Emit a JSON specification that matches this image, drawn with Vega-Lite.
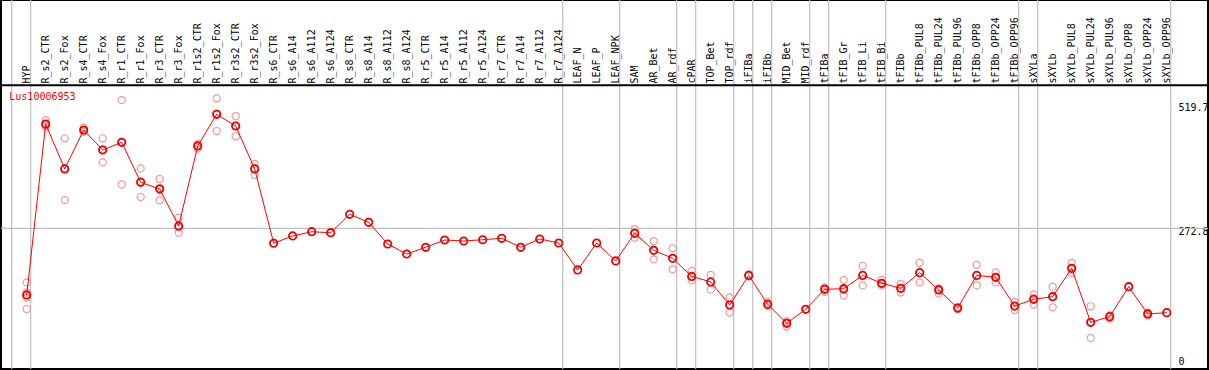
{
  "$schema": "https://vega.github.io/schema/vega-lite/v6.json",
  "width": 1207,
  "height": 369,
  "autosize": "none",
  "padding": {"left": 1, "top": 0, "right": 1, "bottom": 1},
  "background": "white",
  "config": {
    "view": {"stroke": "black", "strokeWidth": 2},
    "axis": {"domain": false, "ticks": false, "grid": false, "labelFont": "DejaVu Sans Mono", "labelFontSize": 10, "labelColor": "black"}
  },
  "datasets": {
    "means": [
      {"c": "HYP", "v": 140}, {"c": "R_s2_CTR", "v": 480.5}, {"c": "R_s2_Fox", "v": 391}, {"c": "R_s4_CTR", "v": 468.5},
      {"c": "R_s4_Fox", "v": 428.7}, {"c": "R_r1_CTR", "v": 444}, {"c": "R_r1_Fox", "v": 364.4}, {"c": "R_r3_CTR", "v": 351},
      {"c": "R_r3_Fox", "v": 277.4}, {"c": "R_r1s2_CTR", "v": 436.7}, {"c": "R_r1s2_Fox", "v": 499.8}, {"c": "R_r3s2_CTR", "v": 476.5},
      {"c": "R_r3s2_Fox", "v": 391}, {"c": "R_s6_CTR", "v": 243}, {"c": "R_s6_A14", "v": 257.5}, {"c": "R_s6_A112", "v": 266},
      {"c": "R_s6_A124", "v": 264}, {"c": "R_s8_CTR", "v": 300.7}, {"c": "R_s8_A14", "v": 284.7}, {"c": "R_s8_A112", "v": 241.5},
      {"c": "R_s8_A124", "v": 221.6}, {"c": "R_r5_CTR", "v": 235}, {"c": "R_r5_A14", "v": 249.5}, {"c": "R_r5_A112", "v": 247.5},
      {"c": "R_r5_A124", "v": 250}, {"c": "R_r7_CTR", "v": 252.9}, {"c": "R_r7_A14", "v": 235}, {"c": "R_r7_A112", "v": 251.5},
      {"c": "R_r7_A124", "v": 243.5}, {"c": "LEAF_N", "v": 189.8}, {"c": "LEAF_P", "v": 243.5}, {"c": "LEAF_NPK", "v": 207.7},
      {"c": "SAM", "v": 262.8}, {"c": "AR_Bet", "v": 229}, {"c": "AR_rdf", "v": 213}, {"c": "cPAR", "v": 177},
      {"c": "TOP_Bet", "v": 166}, {"c": "TOP_rdf", "v": 120}, {"c": "iFIBa", "v": 179}, {"c": "iFIBb", "v": 121.5},
      {"c": "MID_Bet", "v": 83.6}, {"c": "MID_rdf", "v": 111.5}, {"c": "tFIBa", "v": 151.3}, {"c": "tFIB_Gr", "v": 152.5},
      {"c": "tFIB_Li", "v": 179}, {"c": "tFIB_Bi", "v": 163.3}, {"c": "tFIBb", "v": 153.3}, {"c": "tFIBb_PUL8", "v": 184.4},
      {"c": "tFIBb_PUL24", "v": 150}, {"c": "tFIBb_PUL96", "v": 114}, {"c": "tFIBb_OPP8", "v": 179}, {"c": "tFIBb_OPP24", "v": 175.2},
      {"c": "tFIBb_OPP96", "v": 118}, {"c": "sXYLa", "v": 131.4}, {"c": "sXYLb", "v": 136.6}, {"c": "sXYLb_PUL8", "v": 193},
      {"c": "sXYLb_PUL24", "v": 85.6}, {"c": "sXYLb_PUL96", "v": 96.8}, {"c": "sXYLb_OPP8", "v": 156.5}, {"c": "sXYLb_OPP24", "v": 102.2},
      {"c": "sXYLb_OPP96", "v": 104.8}
    ],
    "reps": [
      {"c": "HYP", "v": 165}, {"c": "HYP", "v": 145}, {"c": "HYP", "v": 135}, {"c": "HYP", "v": 112},
      {"c": "R_s2_CTR", "v": 488}, {"c": "R_s2_CTR", "v": 475}, {"c": "R_s2_CTR", "v": 478},
      {"c": "R_s2_Fox", "v": 452}, {"c": "R_s2_Fox", "v": 392}, {"c": "R_s2_Fox", "v": 329},
      {"c": "R_s4_CTR", "v": 473}, {"c": "R_s4_CTR", "v": 465}, {"c": "R_s4_CTR", "v": 468},
      {"c": "R_s4_Fox", "v": 452}, {"c": "R_s4_Fox", "v": 404}, {"c": "R_s4_Fox", "v": 430},
      {"c": "R_r1_CTR", "v": 528}, {"c": "R_r1_CTR", "v": 360}, {"c": "R_r1_CTR", "v": 444},
      {"c": "R_r1_Fox", "v": 392}, {"c": "R_r1_Fox", "v": 335}, {"c": "R_r1_Fox", "v": 366},
      {"c": "R_r3_CTR", "v": 371}, {"c": "R_r3_CTR", "v": 328.5}, {"c": "R_r3_CTR", "v": 353},
      {"c": "R_r3_Fox", "v": 294}, {"c": "R_r3_Fox", "v": 274}, {"c": "R_r3_Fox", "v": 264},
      {"c": "R_r1s2_CTR", "v": 441}, {"c": "R_r1s2_CTR", "v": 432}, {"c": "R_r1s2_CTR", "v": 437},
      {"c": "R_r1s2_Fox", "v": 531.6}, {"c": "R_r1s2_Fox", "v": 466.5}, {"c": "R_r1s2_Fox", "v": 501},
      {"c": "R_r3s2_CTR", "v": 496}, {"c": "R_r3s2_CTR", "v": 456}, {"c": "R_r3s2_CTR", "v": 477},
      {"c": "R_r3s2_Fox", "v": 401}, {"c": "R_r3s2_Fox", "v": 379}, {"c": "R_r3s2_Fox", "v": 392},
      {"c": "SAM", "v": 271}, {"c": "SAM", "v": 254}, {"c": "SAM", "v": 263},
      {"c": "AR_Bet", "v": 247}, {"c": "AR_Bet", "v": 211}, {"c": "AR_Bet", "v": 229},
      {"c": "AR_rdf", "v": 233}, {"c": "AR_rdf", "v": 191}, {"c": "AR_rdf", "v": 213},
      {"c": "cPAR", "v": 188}, {"c": "cPAR", "v": 169}, {"c": "cPAR", "v": 177},
      {"c": "TOP_Bet", "v": 180}, {"c": "TOP_Bet", "v": 151}, {"c": "TOP_Bet", "v": 166},
      {"c": "TOP_rdf", "v": 135}, {"c": "TOP_rdf", "v": 105}, {"c": "TOP_rdf", "v": 120},
      {"c": "iFIBa", "v": 181}, {"c": "iFIBa", "v": 177},
      {"c": "iFIBb", "v": 126}, {"c": "iFIBb", "v": 118},
      {"c": "MID_Bet", "v": 88}, {"c": "MID_Bet", "v": 77}, {"c": "MID_Bet", "v": 85},
      {"c": "tFIBa", "v": 155}, {"c": "tFIBa", "v": 146}, {"c": "tFIBa", "v": 152},
      {"c": "tFIB_Gr", "v": 170}, {"c": "tFIB_Gr", "v": 139}, {"c": "tFIB_Gr", "v": 150},
      {"c": "tFIB_Li", "v": 198}, {"c": "tFIB_Li", "v": 159}, {"c": "tFIB_Li", "v": 180},
      {"c": "tFIB_Bi", "v": 170}, {"c": "tFIB_Bi", "v": 159}, {"c": "tFIB_Bi", "v": 162},
      {"c": "tFIBb", "v": 162}, {"c": "tFIBb", "v": 145}, {"c": "tFIBb", "v": 153},
      {"c": "tFIBb_PUL8", "v": 204}, {"c": "tFIBb_PUL8", "v": 165}, {"c": "tFIBb_PUL8", "v": 184},
      {"c": "tFIBb_PUL24", "v": 153}, {"c": "tFIBb_PUL24", "v": 143}, {"c": "tFIBb_PUL24", "v": 152},
      {"c": "tFIBb_PUL96", "v": 112}, {"c": "tFIBb_PUL96", "v": 116},
      {"c": "tFIBb_OPP8", "v": 200}, {"c": "tFIBb_OPP8", "v": 159}, {"c": "tFIBb_OPP8", "v": 179},
      {"c": "tFIBb_OPP24", "v": 185}, {"c": "tFIBb_OPP24", "v": 165}, {"c": "tFIBb_OPP24", "v": 175},
      {"c": "tFIBb_OPP96", "v": 126}, {"c": "tFIBb_OPP96", "v": 110}, {"c": "tFIBb_OPP96", "v": 118},
      {"c": "sXYLa", "v": 141}, {"c": "sXYLa", "v": 121}, {"c": "sXYLa", "v": 133},
      {"c": "sXYLb", "v": 156.5}, {"c": "sXYLb", "v": 115.5}, {"c": "sXYLb", "v": 137},
      {"c": "sXYLb_PUL8", "v": 204}, {"c": "sXYLb_PUL8", "v": 184}, {"c": "sXYLb_PUL8", "v": 192},
      {"c": "sXYLb_PUL24", "v": 117.5}, {"c": "sXYLb_PUL24", "v": 54.4}, {"c": "sXYLb_PUL24", "v": 85},
      {"c": "sXYLb_PUL96", "v": 93}, {"c": "sXYLb_PUL96", "v": 100},
      {"c": "sXYLb_OPP24", "v": 99}, {"c": "sXYLb_OPP24", "v": 105}
    ],
    "seps": [
      {"c": "HYP"}, {"c": "R_r7_A124"}, {"c": "LEAF_NPK"}, {"c": "AR_rdf"}, {"c": "cPAR"}, {"c": "TOP_rdf"}, {"c": "iFIBa"},
      {"c": "iFIBb"}, {"c": "MID_rdf"}, {"c": "tFIBa"}, {"c": "tFIB_Bi"}, {"c": "tFIBb_OPP96"}, {"c": "sXYLa"}, {"c": "sXYLb_OPP96"}
    ]
  },
  "layer": [
    {
      "data": {"name": "seps"},
      "mark": {"type": "rule", "color": "#bfbfbf", "strokeWidth": 1.2},
      "encoding": {"x": {"field": "c", "type": "nominal", "bandPosition": 0.7105, "title": null}}
    },
    {
      "data": {"values": [{"c": "HYP"}]},
      "mark": {"type": "rule", "color": "#bfbfbf", "strokeWidth": 1.2},
      "encoding": {"x": {"field": "c", "type": "nominal", "bandPosition": -0.289, "title": null}}
    },
    {
      "data": {"values": [{"v": 272.8}]},
      "mark": {"type": "rule", "color": "#bfbfbf", "strokeWidth": 1.2},
      "encoding": {"y": {"field": "v", "type": "quantitative", "title": null}}
    },
    {
      "data": {"values": [{"v": 557.5}]},
      "mark": {"type": "rule", "color": "black", "strokeWidth": 2},
      "encoding": {"y": {"field": "v", "type": "quantitative", "title": null}}
    },
    {
      "data": {"name": "reps"},
      "mark": {"type": "point", "filled": false, "stroke": "#f08c8c", "strokeWidth": 1.2, "size": 50, "opacity": 0.9},
      "encoding": {
        "x": {
          "field": "c", "type": "nominal", "title": null,
          "scale": {
            "type": "band", "paddingInner": 0, "paddingOuter": 0, "range": [16.2, 1175.2],
            "domain": ["HYP","R_s2_CTR","R_s2_Fox","R_s4_CTR","R_s4_Fox","R_r1_CTR","R_r1_Fox","R_r3_CTR","R_r3_Fox","R_r1s2_CTR","R_r1s2_Fox","R_r3s2_CTR","R_r3s2_Fox","R_s6_CTR","R_s6_A14","R_s6_A112","R_s6_A124","R_s8_CTR","R_s8_A14","R_s8_A112","R_s8_A124","R_r5_CTR","R_r5_A14","R_r5_A112","R_r5_A124","R_r7_CTR","R_r7_A14","R_r7_A112","R_r7_A124","LEAF_N","LEAF_P","LEAF_NPK","SAM","AR_Bet","AR_rdf","cPAR","TOP_Bet","TOP_rdf","iFIBa","iFIBb","MID_Bet","MID_rdf","tFIBa","tFIB_Gr","tFIB_Li","tFIB_Bi","tFIBb","tFIBb_PUL8","tFIBb_PUL24","tFIBb_PUL96","tFIBb_OPP8","tFIBb_OPP24","tFIBb_OPP96","sXYLa","sXYLb","sXYLb_PUL8","sXYLb_PUL24","sXYLb_PUL96","sXYLb_OPP8","sXYLb_OPP24","sXYLb_OPP96"]
          },
          "axis": {"orient": "top", "labelAngle": -90, "labelAlign": "left", "labelBaseline": "middle", "labelPadding": -83, "labelOverlap": false, "labelBound": false}
        },
        "y": {
          "field": "v", "type": "quantitative", "title": null,
          "scale": {"domain": [-7.4, 727.4], "nice": false, "zero": false},
          "axis": {
            "orient": "right", "values": [0, 272.8, 519.7],
            "labelExpr": "datum.value == 0 ? '0' : format(datum.value, '.1f')",
            "labelAlign": "left", "labelBaseline": "middle", "labelPadding": -30,
            "labelOffset": {"condition": {"test": "datum.value == 0", "value": -4}, "value": 3},
            "labelOverlap": false, "labelFlush": false, "labelBound": false
          }
        }
      }
    },
    {
      "data": {"name": "means"},
      "mark": {"type": "line", "color": "#ff0000", "strokeWidth": 1},
      "encoding": {
        "x": {"field": "c", "type": "nominal", "title": null},
        "y": {"field": "v", "type": "quantitative", "title": null},
        "order": {"value": null}
      }
    },
    {
      "data": {"name": "means"},
      "mark": {"type": "point", "filled": false, "stroke": "#ee0000", "strokeWidth": 1.8, "size": 55, "opacity": 1},
      "encoding": {
        "x": {"field": "c", "type": "nominal", "title": null},
        "y": {"field": "v", "type": "quantitative", "title": null}
      }
    },
    {
      "data": {"values": [{"c": "HYP", "v": 533.7, "t": "Lus10006953"}]},
      "mark": {"type": "text", "align": "left", "baseline": "middle", "dx": -17.4, "font": "DejaVu Sans Mono", "fontSize": 10, "color": "#ff0000"},
      "encoding": {
        "x": {"field": "c", "type": "nominal", "title": null},
        "y": {"field": "v", "type": "quantitative", "title": null},
        "text": {"field": "t"}
      }
    }
  ]
}
